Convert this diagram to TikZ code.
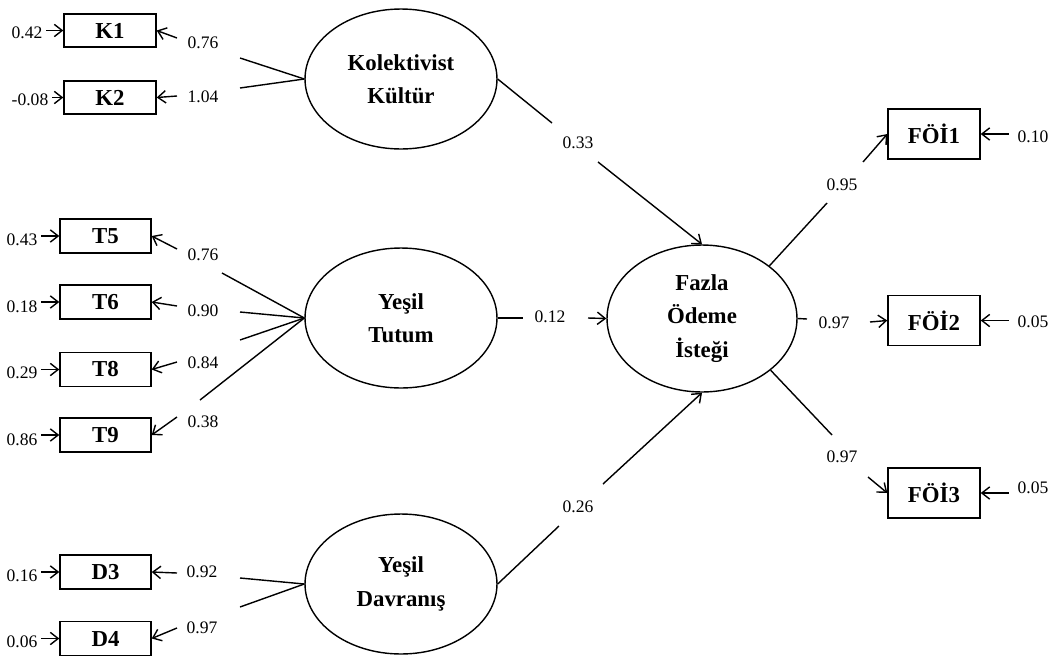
\documentclass[tikz,border=0pt]{standalone}
\usepackage{fontspec}
\setmainfont{Liberation Serif}
\usetikzlibrary{arrows.meta,shapes.geometric}
\begin{document}
\begin{tikzpicture}[x=0.02cm,y=-0.02cm,
  ind/.style={draw, line width=0.8pt, minimum width=1.84cm, minimum height=0.66cm, inner sep=0pt, font=\fontsize{13}{15}\selectfont\bfseries},
  indt/.style={ind, minimum width=1.82cm, minimum height=0.68cm},
  indf/.style={ind, minimum width=1.84cm, minimum height=1.0cm},
  lat/.style={draw, ellipse, line width=0.8pt, minimum width=3.84cm, minimum height=2.8cm, inner sep=0pt, align=center, font=\fontsize{13}{19}\selectfont\bfseries},
  num/.style={inner sep=2pt, font=\fontsize{10}{12}\selectfont},
  numr/.style={num, inner xsep=5pt},
  link/.style={line width=0.8pt},
  arr/.style={line width=0.8pt, -{Straight Barb[length=4.5pt,width=7pt]}}
]
\useasboundingbox (0,0) rectangle (1058,660);

% indicators
\node[ind] (K1) at (110,30.5) {K1};
\node[ind] (K2) at (110,97.5) {K2};
\node[indt] (T5) at (105.5,236) {T5};
\node[indt] (T6) at (105.5,302) {T6};
\node[indt] (T8) at (105.5,369.5) {T8};
\node[indt] (T9) at (105.5,435) {T9};
\node[indt] (D3) at (105.5,572) {D3};
\node[indt] (D4) at (105.5,638.5) {D4};
\node[indf] (F1) at (934,134) {FÖİ1};
\node[indf] (F2) at (934,320.5) {FÖİ2};
\node[indf] (F3) at (934,493) {FÖİ3};

% latents
\node[lat] (KK) at (401,79) {Kolektivist\\Kültür};
\node[lat] (YT) at (401,318) {Yeşil\\Tutum};
\node[lat] (YD) at (401,584) {Yeşil\\Davranış};
\node[lat, minimum width=3.8cm, minimum height=2.94cm] (FO) at (702,318.5) {Fazla\\Ödeme\\İsteği};

% error terms
\node[num] (eK1) at (27,33) {0.42};
\node[num] (eK2) at (30,100) {-0.08};
\node[num] (eT5) at (22,240) {0.43};
\node[num] (eT6) at (22,307) {0.18};
\node[num] (eT8) at (22,373) {0.29};
\node[num] (eT9) at (22,440) {0.86};
\node[num] (eD3) at (22,576) {0.16};
\node[num] (eD4) at (22,642) {0.06};
\node[numr] (eF1) at (1033,137) {0.10};
\node[numr] (eF2) at (1033,322) {0.05};
\node[numr] (eF3) at (1033,488) {0.05};

\foreach \e/\b in {eK1/K1,eK2/K2,eT5/T5,eT6/T6,eT8/T8,eT9/T9,eD3/D3,eD4/D4}
  \draw[arr] (\e.east |- \b.west) -- (\b.west);
\foreach \e/\b in {eF1/F1,eF2/F2,eF3/F3}
  \draw[arr] (\e.west |- \b.east) -- (\b.east);

% loading labels
\node[num] (lK1) at (203,43) {0.76};
\node[num] (lK2) at (203,97) {1.04};
\node[num] (lT5) at (203,255) {0.76};
\node[num] (lT6) at (203,311) {0.90};
\node[num] (lT8) at (203,363) {0.84};
\node[num] (lT9) at (203,422) {0.38};
\node[num] (lD3) at (202,572) {0.92};
\node[num] (lD4) at (202,628) {0.97};
\node[num] (l1) at (578,143) {0.33};
\node[num] (l2) at (550,317) {0.12};
\node[num] (l3) at (578,507) {0.26};
\node[num] (lF1) at (842,185) {0.95};
\node[num] (lF2) at (834,323) {0.97};
\node[num] (lF3) at (842,457) {0.97};

% gap coordinates
\coordinate (k1a) at (240,58);  \coordinate (k1b) at (177,38);
\coordinate (k2a) at (240,88);  \coordinate (k2b) at (177,96);
\coordinate (t5a) at (222,273); \coordinate (t5b) at (177,249);
\coordinate (t6a) at (240,312); \coordinate (t6b) at (177,306);
\coordinate (t8a) at (240,340); \coordinate (t8b) at (177,362);
\coordinate (t9a) at (200,400); \coordinate (t9b) at (177,417);
\coordinate (d3a) at (240,578); \coordinate (d3b) at (177,573);
\coordinate (d4a) at (240,607); \coordinate (d4b) at (177,628);
\coordinate (s1a) at (552,123); \coordinate (s1b) at (598,162);
\coordinate (s2a) at (523,318); \coordinate (s2b) at (588,318);
\coordinate (s3a) at (559,526); \coordinate (s3b) at (603,484);
\coordinate (f1a) at (827,203); \coordinate (f1b) at (863,162);
\coordinate (f2a) at (807,319); \coordinate (f2b) at (870,322);
\coordinate (f3a) at (832,435); \coordinate (f3b) at (868,477);

% measurement paths
\draw[link] (KK.west) -- (k1a); \draw[arr] (k1b) -- (K1.east);
\draw[link] (KK.west) -- (k2a); \draw[arr] (k2b) -- (K2.east);
\draw[link] (YT.west) -- (t5a); \draw[arr] (t5b) -- (T5.east);
\draw[link] (YT.west) -- (t6a); \draw[arr] (t6b) -- (T6.east);
\draw[link] (YT.west) -- (t8a); \draw[arr] (t8b) -- (T8.east);
\draw[link] (YT.west) -- (t9a); \draw[arr] (t9b) -- (T9.east);
\draw[link] (YD.west) -- (d3a); \draw[arr] (d3b) -- (D3.east);
\draw[link] (YD.west) -- (d4a); \draw[arr] (d4b) -- (D4.east);

% structural paths
\draw[link] (KK.east) -- (s1a); \draw[arr] (s1b) -- (FO.north);
\draw[link] (YT.east) -- (s2a); \draw[arr] (s2b) -- (FO.west);
\draw[link] (YD.east) -- (s3a); \draw[arr] (s3b) -- (FO.south);

% outcome indicators
\draw[link] (FO.38) -- (f1a); \draw[arr] (f1b) -- (F1.west);
\draw[link] (FO.east) -- (f2a); \draw[arr] (f2b) -- (F2.west);
\draw[link] (FO.-37) -- (f3a); \draw[arr] (f3b) -- (F3.west);
\end{tikzpicture}
\end{document}
